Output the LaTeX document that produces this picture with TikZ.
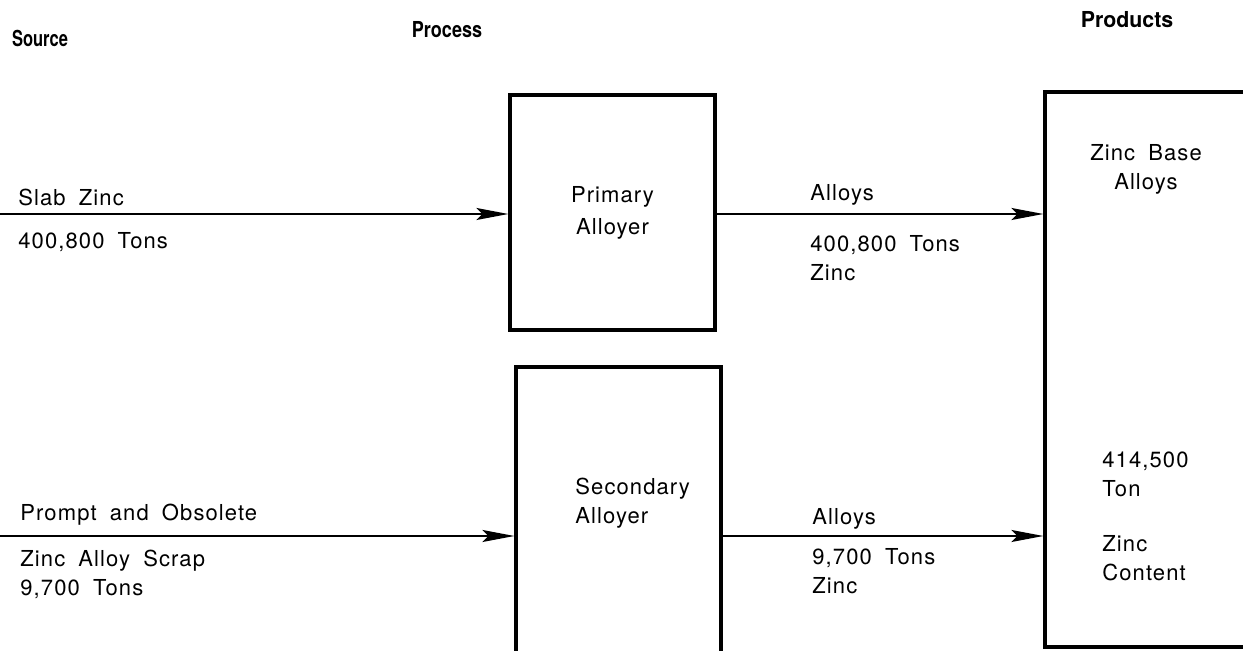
\documentclass[tikz,border=0pt]{standalone}
\usepackage{fontspec}
\setmainfont{TeX Gyre Heros}[LetterSpace=5]
\newfontfamily\headfont{TeX Gyre Heros}
\usetikzlibrary{arrows.meta}

\newcommand{\cond}[2][0.82]{\scalebox{#1}[1]{#2}}
\newcommand{\widespaces}{\spaceskip=0.6em\relax}

\tikzset{
  heading/.style={font=\headfont\bfseries\fontsize{11}{13}\selectfont, inner sep=0pt},
  flowtext/.style={font=\fontsize{11}{14.5}\selectfont\widespaces, inner sep=0pt, anchor=west, align=left},
  procbox/.style={draw, line width=1.6pt, inner sep=0pt, align=center, font=\fontsize{11}{16}\selectfont},
  flow/.style={line width=1pt, -{Stealth[length=16pt,width=6pt,inset=3pt]}},
}

\begin{document}
\begin{tikzpicture}[x=0.5pt, y=-0.5pt]
  \useasboundingbox (0,0) rectangle (1243,651);

  % Column headings
  \node[heading] (source) at (40,38) {\cond[0.75]{Source}};
  \node[heading] (process) at (447,30) {\cond{Process}};
  \node[heading] (products) at (1127,20) {\cond[0.97]{Products}};

  % Process boxes
  \node[procbox, minimum width=102.5pt, minimum height=117.5pt] (primary) at (612.5,212.5) {Primary\\Alloyer};
  \node[procbox, minimum width=102.5pt, minimum height=151.5pt] (secondary) at (618.5,518.5) {};
  \node[flowtext] (secname) at (575,503) {Secondary\\Alloyer};

  % Product box (runs off the right edge)
  \node[procbox, minimum width=110pt, minimum height=277.5pt] (zincalloys) at (1155,369.5) {};
  \node[flowtext, anchor=center, align=center] (basealloys) at (1146,169) {Zinc Base\\Alloys};
  \node[flowtext] (tonnage) at (1102,474) {414,500\\Ton};
  \node[flowtext] (content) at (1102,558) {Zinc\\Content};

  % Upper flow: slab zinc
  \coordinate (slabin) at (0,214);
  \draw[flow] (slabin) -- (slabin -| primary.west);
  \draw[flow] (slabin -| primary.east) -- (slabin -| zincalloys.west);
  \node[flowtext] (slab) at (18,197) {Slab Zinc};
  \node[flowtext] (slabtons) at (18,242) {400,800 Tons};
  \node[flowtext] (primalloys) at (810,195) {Alloys};
  \node[flowtext] (primtons) at (810,258) {400,800 Tons\\Zinc};

  % Lower flow: scrap
  \coordinate (scrapin) at (0,536);
  \draw[flow] (scrapin) -- (scrapin -| secondary.west);
  \draw[flow] (scrapin -| secondary.east) -- (scrapin -| zincalloys.west);
  \node[flowtext] (scrap) at (20,515) {Prompt and Obsolete};
  \node[flowtext] (scraptons) at (20,574) {Zinc Alloy Scrap\\9,700 Tons};
  \node[flowtext] (secalloys) at (812,519) {Alloys};
  \node[flowtext] (sectons) at (812,571) {9,700 Tons\\Zinc};
\end{tikzpicture}
\end{document}
